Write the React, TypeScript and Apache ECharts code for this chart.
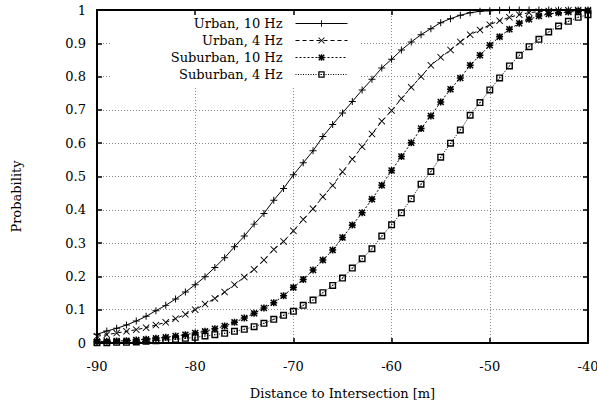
import React, { useEffect, useRef } from "react";
import * as echarts from "echarts";

const distances = [
  -90, -89, -88, -87, -86, -85, -84, -83, -82, -81,
  -80, -79, -78, -77, -76, -75, -74, -73, -72, -71,
  -70, -69, -68, -67, -66, -65, -64, -63, -62, -61,
  -60, -59, -58, -57, -56, -55, -54, -53, -52, -51,
  -50, -49, -48, -47, -46, -45, -44, -43, -42, -41, -40,
];

const urban10 = [
  0.026, 0.036, 0.044, 0.054, 0.066, 0.080, 0.097, 0.113, 0.132, 0.153,
  0.175, 0.199, 0.227, 0.256, 0.289, 0.321, 0.357, 0.389, 0.429, 0.464,
  0.505, 0.541, 0.577, 0.620, 0.656, 0.691, 0.725, 0.760, 0.792, 0.826,
  0.852, 0.880, 0.904, 0.926, 0.944, 0.962, 0.974, 0.984, 0.992, 0.996,
  0.998, 0.999, 1.0, 1.0, 1.0, 1.0, 1.0, 1.0, 1.0, 1.0, 1.0,
];

const urban4 = [
  0.020, 0.025, 0.030, 0.035, 0.040, 0.046, 0.054, 0.062, 0.073, 0.086,
  0.100, 0.117, 0.134, 0.153, 0.175, 0.198, 0.221, 0.249, 0.281, 0.305,
  0.337, 0.371, 0.403, 0.439, 0.473, 0.514, 0.552, 0.589, 0.628, 0.666,
  0.698, 0.734, 0.768, 0.800, 0.834, 0.858, 0.880, 0.904, 0.926, 0.940,
  0.956, 0.968, 0.978, 0.986, 0.992, 0.995, 0.997, 0.998, 0.999, 1.0, 1.0,
];

const suburban10 = [
  0.004, 0.005, 0.006, 0.007, 0.009, 0.011, 0.014, 0.017, 0.021, 0.025,
  0.030, 0.035, 0.043, 0.051, 0.062, 0.075, 0.089, 0.105, 0.121, 0.142,
  0.167, 0.191, 0.219, 0.249, 0.279, 0.317, 0.354, 0.391, 0.432, 0.474,
  0.518, 0.560, 0.601, 0.644, 0.682, 0.724, 0.762, 0.796, 0.834, 0.864,
  0.894, 0.920, 0.942, 0.960, 0.972, 0.982, 0.988, 0.992, 0.994, 0.996, 0.997,
];

const suburban4 = [
  0.001, 0.001, 0.002, 0.002, 0.003, 0.005, 0.007, 0.009, 0.011, 0.014,
  0.017, 0.021, 0.025, 0.029, 0.035, 0.041, 0.049, 0.059, 0.071, 0.083,
  0.095, 0.113, 0.129, 0.151, 0.173, 0.195, 0.225, 0.253, 0.283, 0.321,
  0.355, 0.391, 0.433, 0.477, 0.515, 0.558, 0.600, 0.640, 0.684, 0.722,
  0.760, 0.796, 0.832, 0.864, 0.890, 0.912, 0.934, 0.952, 0.966, 0.978, 0.986,
];

const seriesNames = ["Urban, 10 Hz", "Urban, 4 Hz", "Suburban, 10 Hz", "Suburban, 4 Hz"];
const xTicks = [-90, -80, -70, -60, -50, -40];
const yTicks = [0, 0.1, 0.2, 0.3, 0.4, 0.5, 0.6, 0.7, 0.8, 0.9, 1];

const SYM_PLUS = "path://M4.3,0H5.7V4.3H10V5.7H5.7V10H4.3V5.7H0V4.3H4.3Z";
const SYM_CROSS =
  "path://M0,0.9L0.9,0L5,4.1L9.1,0L10,0.9L5.9,5L10,9.1L9.1,10L5,5.9L0.9,10L0,9.1L4.1,5Z";
const SYM_STAR =
  "path://M3.9,0H6.1V3.9H10V6.1H6.1V10H3.9V6.1H0V3.9H3.9Z M0,1.5L1.5,0L5,3.5L8.5,0L10,1.5L6.5,5L10,8.5L8.5,10L5,6.5L1.5,10L0,8.5L3.5,5Z";
const SYM_SQUARE = "path://M0,0H10V10H0Z M2,2V8H8V2Z M4.2,4.2H5.8V5.8H4.2Z";

const FONT = "DejaVu Serif";

export default function App() {
  const ref = useRef<HTMLDivElement>(null);

  useEffect(() => {
    if (!ref.current) return;
    const chart = echarts.init(ref.current, undefined, { renderer: "svg" });

    const mk = (vals: number[]) => distances.map((d, i) => [d, vals[i]]);
    const styles = [
      { sym: SYM_PLUS, size: 7, type: "solid" as any },
      { sym: SYM_CROSS, size: 7, type: [4, 3] as any },
      { sym: SYM_STAR, size: 7, type: [2, 2] as any },
      { sym: SYM_SQUARE, size: 7, type: [1, 1.5] as any },
    ];
    const datasets = [urban10, urban4, suburban10, suburban4];

    const axisCommon = {
      axisLine: { show: true, onZero: false, lineStyle: { color: "#000", width: 2 } },
      axisTick: { show: true, inside: true, length: 5, lineStyle: { color: "#000", width: 1.5 } },
    };

    chart.setOption({
      animation: false,
      backgroundColor: "#fff",
      grid: { left: 97, right: 9, top: 10, bottom: 58, show: false, outerBoundsMode: "none" },
      graphic: [
        {
          type: "rect",
          z: 3,
          shape: { x: 110, y: 11, width: 249, height: 76 },
          style: { fill: "#fff" },
          silent: true,
        },
      ],
      legend: {
        orient: "vertical",
        align: "right",
        right: 249,
        top: 17,
        padding: 0,
        itemWidth: 52,
        itemHeight: 8,
        itemGap: 4,
        data: seriesNames,
        lineStyle: { width: 1 },
        textStyle: { fontFamily: FONT, fontSize: 13, color: "#000", padding: [0, 8, 0, 0] },
      },
      xAxis: [
        {
          type: "value",
          min: -90,
          max: -40,
          interval: 10,
          name: "Distance to Intersection [m]",
          nameLocation: "middle",
          nameGap: 44,
          nameTextStyle: { fontFamily: FONT, fontSize: 13, color: "#000" },
          ...axisCommon,
          axisLabel: {
            margin: 17,
            fontFamily: FONT,
            fontSize: 13,
            color: "#000",
            formatter: (v: number) => (xTicks.includes(v) ? String(v) : ""),
          },
          splitLine: { show: true, lineStyle: { color: "#888", width: 1, type: [1, 2] } },
        },
        {
          type: "value",
          position: "top",
          min: -90,
          max: -40,
          interval: 10,
          z: 5,
          ...axisCommon,
          axisLabel: { show: false },
          splitLine: { show: false },
        },
      ],
      yAxis: [
        {
          type: "value",
          min: 0,
          max: 1,
          interval: 0.1,
          name: "Probability",
          nameLocation: "middle",
          nameGap: 74,
          nameTextStyle: { fontFamily: FONT, fontSize: 13, color: "#000", padding: [0, 40, 0, 0] },
          ...axisCommon,
          axisLabel: {
            margin: 11,
            fontFamily: FONT,
            fontSize: 13,
            color: "#000",
            formatter: (v: number) => {
              const r = Math.round(v * 10) / 10;
              const t = yTicks.find((y) => Math.abs(y - r) < 1e-9);
              return t === undefined ? "" : String(t);
            },
          },
          splitLine: { show: true, lineStyle: { color: "#888", width: 1, type: [1, 2] } },
        },
        {
          type: "value",
          position: "right",
          min: 0,
          max: 1,
          interval: 0.1,
          z: 5,
          ...axisCommon,
          axisLabel: { show: false },
          splitLine: { show: false },
        },
      ],
      series: seriesNames.map((name, i) => ({
        name,
        type: "line",
        xAxisIndex: 0,
        yAxisIndex: 0,
        data: mk(datasets[i]),
        symbol: styles[i].sym,
        symbolSize: styles[i].size,
        showSymbol: true,
        clip: false,
        z: 2,
        lineStyle: { color: "#000", width: 1, type: styles[i].type },
        itemStyle: { color: "#000", borderWidth: 0 },
        emphasis: { disabled: true },
      })),
    });

    return () => chart.dispose();
  }, []);

  return <div ref={ref} style={{ width: 597, height: 401, position: "absolute", left: 0, top: 0 }} />;
}
